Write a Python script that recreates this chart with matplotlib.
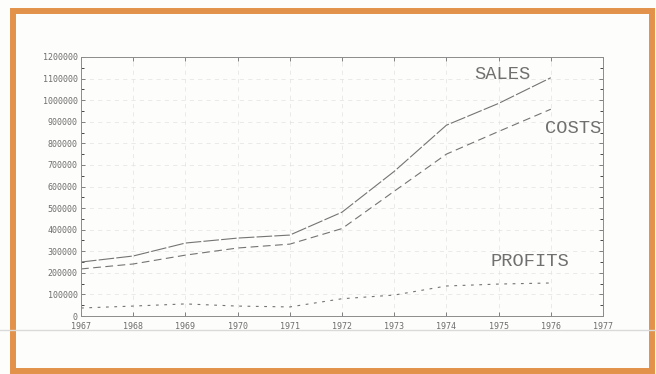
import matplotlib.pyplot as plt
from matplotlib.patches import Rectangle
from matplotlib.lines import Line2D

years = [1967, 1968, 1969, 1970, 1971, 1972, 1973, 1974, 1975, 1976]
sales = [250000, 278000, 338000, 361000, 375000, 481000, 670000, 884000, 985000, 1104000]
costs = [218000, 241000, 282000, 315000, 333000, 405000, 578000, 750000, 855000, 958000]
profits = [37000, 46000, 56000, 46000, 42000, 80000, 97000, 139000, 148000, 153000]

x_ticks = list(range(1967, 1978))
y_ticks = list(range(0, 1200001, 100000))

ink = '#747474'
fig = plt.figure(figsize=(6.56, 3.74), dpi=100)
fig.patch.set_facecolor('#fdfdfb')

# orange photo frame and the faint scan line across it
fig.patches.append(Rectangle((13 / 656, 1 - 371 / 374), 639 / 656, 360 / 374,
                             transform=fig.transFigure, fill=False,
                             edgecolor='#e2924a', linewidth=4.3))
fig.lines.append(Line2D([0, 1], [1 - 330 / 374] * 2,
                        transform=fig.transFigure, color='#dadada', lw=1))

ax = fig.add_axes([81 / 656, 1 - 316 / 374, 522 / 656, 259 / 374])
ax.set_facecolor('none')
ax.plot(years, sales, color=ink, lw=0.8, dashes=(14, 2))
ax.plot(years, costs, color=ink, lw=0.8, dashes=(7, 4))
ax.plot(years, profits, color=ink, lw=0.8, dashes=(2.5, 5))

ax.set_xlim(1967, 1977)
ax.set_ylim(0, 1200000)
ax.set_xticks(x_ticks)
ax.set_xticklabels([str(v) for v in x_ticks])
ax.set_yticks(y_ticks)
ax.set_yticklabels([str(v) for v in y_ticks])
ax.set_yticks(range(50000, 1200000, 100000), minor=True)
ax.tick_params(labelsize=6, colors='#6e6e6e', length=3, width=0.6,
               direction='in', right=True, top=True, pad=2.5)
ax.tick_params(axis='x', pad=4)
ax.tick_params(which='minor', length=2, width=0.5, direction='in', right=True)
for lab in ax.get_xticklabels() + ax.get_yticklabels():
    lab.set_family('DejaVu Sans Mono')
ax.grid(True, color='#e2e2e2', lw=0.5, dashes=(6, 6))
for s in ax.spines.values():
    s.set_color('#8c8c8c')
    s.set_linewidth(0.7)

font = dict(family='Liberation Mono', color='#707070', fontsize=13.5,
            ha='center', va='center', clip_on=False)
ax.text(1975.08, 1120000, 'SALES', **font)
ax.text(1976.43, 870000, 'COSTS', **font)
ax.text(1975.6, 252000, 'PROFITS', **font)

fig.savefig('out.png', dpi=100)
